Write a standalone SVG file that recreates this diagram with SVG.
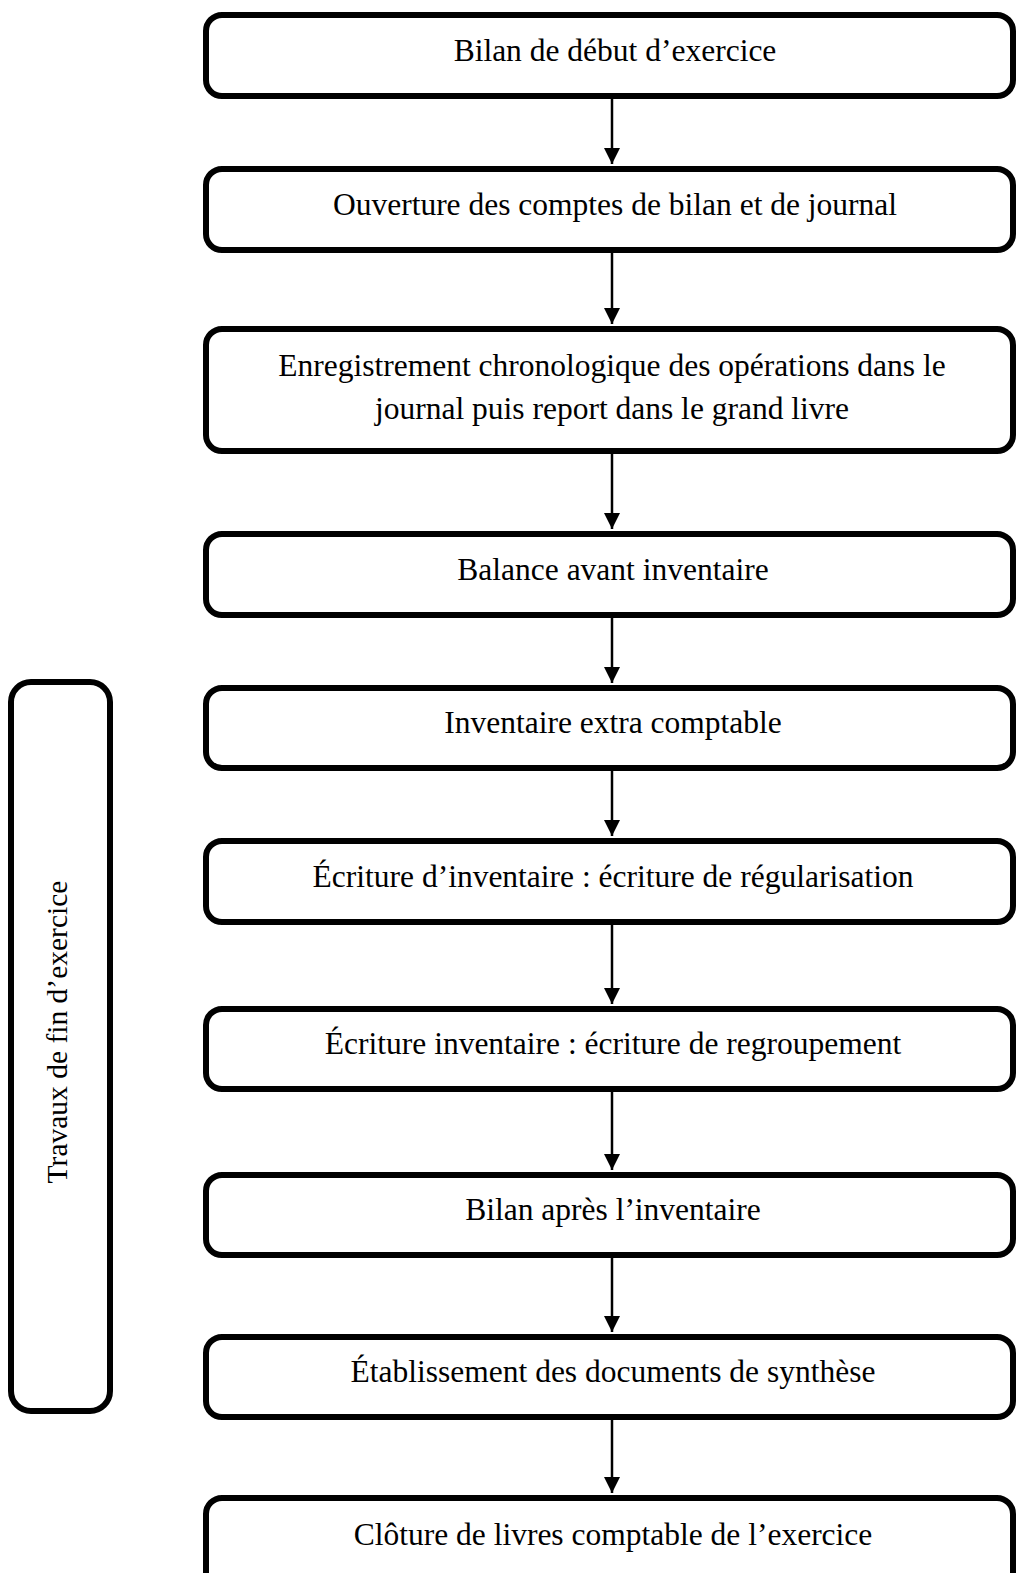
<svg xmlns="http://www.w3.org/2000/svg" width="1018" height="1573" viewBox="0 0 1018 1573">
<defs>
<style>
.box{fill:#fff;stroke:#000;stroke-width:6}
.t{font-family:"Liberation Serif","Times New Roman",serif;font-size:31.5px;fill:#000;text-anchor:middle}
.c{stroke:#000;stroke-width:2.5;fill:none}
</style>
<marker id="ah" markerWidth="16" markerHeight="16" viewBox="0 0 16 16" refX="16" refY="8" orient="auto" markerUnits="userSpaceOnUse">
<path d="M0,0 L16,8 L0,16 Z" fill="#000"/>
</marker>
</defs>
<rect width="1018" height="1573" fill="#fff"/>
<g id="side">
<rect class="box" x="11" y="682" width="99" height="729" rx="20"/>
<text class="t" style="font-size:29.5px" transform="translate(67,1032) rotate(-90)">Travaux de fin d’exercice</text>
</g>
<g id="n1"><rect class="box" x="206" y="15" width="807" height="81" rx="16"/><text class="t" x="615" y="61">Bilan de début d’exercice</text></g>
<g id="n2"><rect class="box" x="206" y="169" width="807" height="81" rx="16"/><text class="t" x="615" y="215">Ouverture des comptes de bilan et de journal</text></g>
<g id="n3"><rect class="box" x="206" y="329" width="807" height="122" rx="16"/><text class="t" x="612" y="376">Enregistrement chronologique des opérations dans le</text><text class="t" x="612" y="419">journal puis report dans le grand livre</text></g>
<g id="n4"><rect class="box" x="206" y="534" width="807" height="81" rx="16"/><text class="t" x="613" y="580">Balance avant inventaire</text></g>
<g id="n5"><rect class="box" x="206" y="688" width="807" height="80" rx="16"/><text class="t" x="613" y="733">Inventaire extra comptable</text></g>
<g id="n6"><rect class="box" x="206" y="841" width="807" height="81" rx="16"/><text class="t" x="613" y="887">Écriture d’inventaire : écriture de régularisation</text></g>
<g id="n7"><rect class="box" x="206" y="1009" width="807" height="80" rx="16"/><text class="t" x="613" y="1054">Écriture inventaire : écriture de regroupement</text></g>
<g id="n8"><rect class="box" x="206" y="1175" width="807" height="80" rx="16"/><text class="t" x="613" y="1220">Bilan après l’inventaire</text></g>
<g id="n9"><rect class="box" x="206" y="1337" width="807" height="80" rx="16"/><text class="t" x="613" y="1382">Établissement des documents de synthèse</text></g>
<g id="n10"><rect class="box" x="206" y="1498" width="807" height="100" rx="16"/><text class="t" x="613" y="1545">Clôture de livres comptable de l’exercice</text></g>
<g id="connectors">
<line class="c" x1="612" y1="99" x2="612" y2="164" marker-end="url(#ah)"/>
<line class="c" x1="612" y1="253" x2="612" y2="324" marker-end="url(#ah)"/>
<line class="c" x1="612" y1="454" x2="612" y2="529" marker-end="url(#ah)"/>
<line class="c" x1="612" y1="618" x2="612" y2="683" marker-end="url(#ah)"/>
<line class="c" x1="612" y1="771" x2="612" y2="836" marker-end="url(#ah)"/>
<line class="c" x1="612" y1="925" x2="612" y2="1004" marker-end="url(#ah)"/>
<line class="c" x1="612" y1="1092" x2="612" y2="1170" marker-end="url(#ah)"/>
<line class="c" x1="612" y1="1258" x2="612" y2="1332" marker-end="url(#ah)"/>
<line class="c" x1="612" y1="1420" x2="612" y2="1493" marker-end="url(#ah)"/>
</g>
</svg>
